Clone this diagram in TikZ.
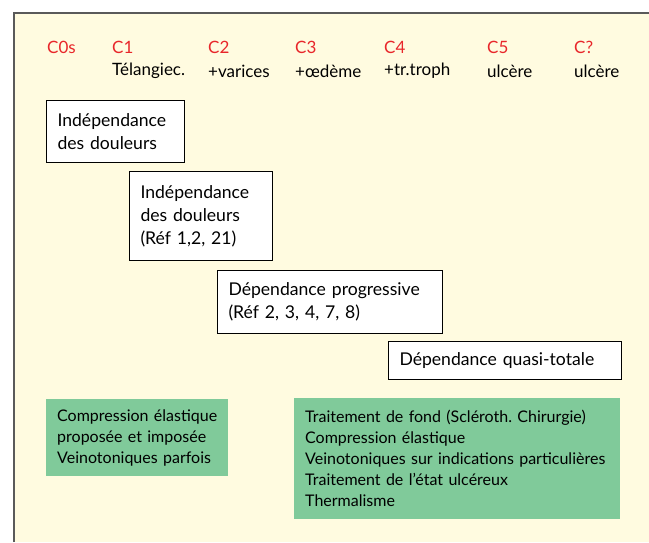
\documentclass[tikz,border=0pt]{standalone}
\usepackage{fontspec}
\setmainfont{Lato}
\frenchspacing
\definecolor{paper}{HTML}{FFFBE0}
\definecolor{frame}{HTML}{5A5A5A}
\definecolor{stagered}{HTML}{E8262A}
\definecolor{caregreen}{HTML}{80CA9A}

\begin{document}
\begin{tikzpicture}[x=1pt,y=-1pt,
    every node/.style={font=\fontsize{16}{21}\selectfont, inner sep=0pt},
    stage/.style={anchor=west, text=stagered, font=\fontsize{17}{21}\selectfont},
    sign/.style={anchor=west, font=\fontsize{17}{21}\selectfont},
    phase/.style={draw=black, line width=1pt, fill=white, anchor=north west, align=left,
      inner xsep=11pt, font=\fontsize{17.6}{23}\selectfont},
    care/.style={fill=caregreen, anchor=north west, align=left, inner xsep=11pt}
  ]
    \useasboundingbox (0,0) rectangle (649,542);
    \fill[paper] (13,13) rectangle (649,542);
    \draw[frame, line width=1.5pt] (14,542) -- (14,13) -- (649,13);

    \foreach \x/\c/\t [count=\i] in {47/C0s/, 112/C1/Télangiec., 208/C2/+varices,
        295/C3/+œdème, 384/C4/+tr.troph, 487/C5/ulcère, 574/C?/ulcère} {
      \node[stage] (stage\i) at (\x,47) {\c};
      \node[sign] (sign\i) at (\x,71) {\t};
    }

    \node[phase, text width=116pt, minimum height=62pt] (free) at (46,100)
      {Indépendance\\des douleurs};
    \node[phase, text width=121pt, minimum height=89pt] (freeref) at (129,171)
      {Indépendance\\des douleurs\\(Réf 1,2, 21)};
    \node[phase, text width=203pt, minimum height=63pt] (progressive) at (217,270)
      {Dépendance progressive\\(Réf 2, 3, 4, 7, 8)};
    \node[phase, text width=211pt, minimum height=38pt] (total) at (388,341)
      {Dépendance quasi-totale};

    \node[care, text width=160pt, minimum height=77pt] (early) at (46,399)
      {Compression élastique\\proposée et imposée\\Veinotoniques parfois};
    \node[care, text width=304pt, minimum height=121pt] (late) at (294,398)
      {Traitement de fond (Scléroth. Chirurgie)\\Compression élastique\\Veinotoniques sur indications particulières\\Traitement de l’état ulcéreux\\Thermalisme};
  \end{tikzpicture}
\end{document}
